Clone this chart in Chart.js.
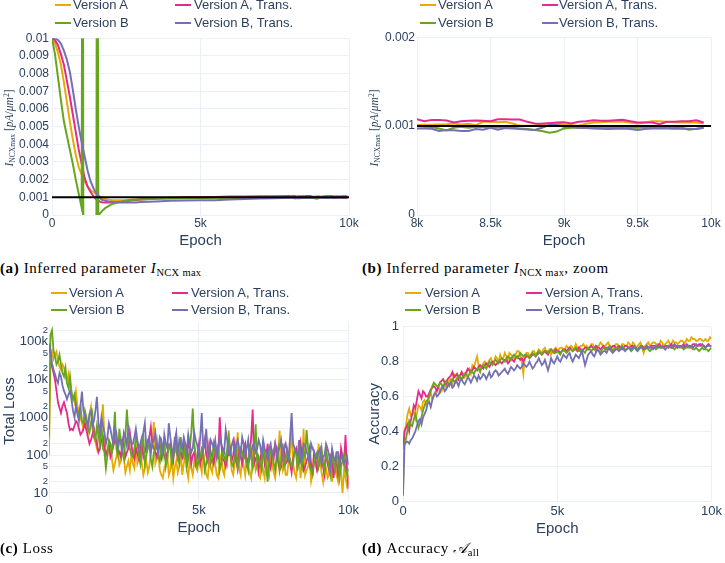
<!DOCTYPE html>
<html><head><meta charset="utf-8">
<script src="https://cdn.jsdelivr.net/npm/chart.js@4.4.1/dist/chart.umd.min.js"></script>
<style>
body{margin:0;width:725px;height:563px;background:#fff;position:relative;overflow:hidden;font-family:'Liberation Sans',Arial,sans-serif;}
canvas{position:absolute;}
.lt{position:absolute;font-size:13px;color:#2a3f5f;white-space:nowrap;line-height:16px;height:16px;}
.sw{position:absolute;height:2px;width:16px;}
.cap{position:absolute;font-family:'Liberation Serif','DejaVu Serif',serif;font-size:15px;letter-spacing:0.6px;color:#000;white-space:nowrap;line-height:18px;}
.cap sub{font-size:10.5px;vertical-align:-3px;letter-spacing:0.3px;}
.yt{position:absolute;width:120px;height:14px;line-height:14px;text-align:center;transform:rotate(-90deg);font-family:'Liberation Serif',serif;font-size:11.5px;color:#2a3f5f;white-space:nowrap;}
.yt sub{font-size:7.5px;vertical-align:-2px;}
.yt sup{font-size:7.5px;vertical-align:4px;}
</style></head><body>
<canvas id="ca" width="362" height="222" style="left:0;top:28px"></canvas>
<canvas id="cb" width="363" height="222" style="left:362px;top:28px"></canvas>
<canvas id="cc" width="362" height="225" style="left:0;top:315px"></canvas>
<canvas id="cd" width="363" height="226" style="left:362px;top:315px"></canvas>
<div class="yt" style="left:-53px;top:121px"><i>I</i><sub>NCXmax</sub> [<i>pA</i>/<i>μm</i><sup>2</sup>]</div>
<div class="yt" style="left:312px;top:121px"><i>I</i><sub>NCXmax</sub> [<i>pA</i>/<i>μm</i><sup>2</sup>]</div>
<div class="cap" style="left:0;top:259px"><b>(a)</b>&nbsp;Inferred parameter <i>I</i><sub>NCX max</sub></div>
<div class="cap" style="left:362px;top:259px"><b>(b)</b>&nbsp;Inferred parameter <i>I</i><sub>NCX max</sub>, zoom</div>
<div class="cap" style="left:0;top:539px"><b>(c)</b>&nbsp;Loss</div>
<div class="cap" style="left:362px;top:539px"><b>(d)</b>&nbsp;Accuracy <i>𝒜</i><sub>all</sub></div>
<script>
const seriesNames = ['Version A', 'Version A, Trans.', 'Version B', 'Version B, Trans.'];
const seriesColors = ['#e6ab02', '#e7298a', '#66a61e', '#7570b3'];
const trueValue = 0.001;

// Inferred parameter I_NCXmax
const paramEpochs = [0,100,200,300,400,500,600,700,800,900,1000,1100,1200,1300,1400,1500,1600,1700,1800,1900,2000,2100,2200,2300,2400,2500,2600,2700,2800,2900,3000,
 3500,4000,4500,5000,5500,6000,6500,7000,7500,
 8000,8050,8100,8150,8200,8250,8300,8350,8400,8450,8500,8550,8600,8650,8700,8750,8800,8850,8900,8950,
 9000,9050,9100,9150,9200,9250,9300,9350,9400,9450,9500,9550,9600,9650,9700,9750,9800,9850,9900,9950];
const greenParamEpochs = [0,100,200,300,400,500,600,700,800,900,1000,1030,1070,1480,1520,1560,1600,1700,1800,1900,2000,2200,2400,2600,2800,3000,
 3500,4000,4500,5000,5500,6000,6500,7000,7500,
 8000,8050,8100,8150,8200,8250,8300,8350,8400,8450,8500,8550,8600,8650,8700,8750,8800,8850,8900,8950,
 9000,9050,9100,9150,9200,9250,9300,9350,9400,9450,9500,9550,9600,9650,9700,9750,9800,9850,9900,9950];
const paramA = [0.0100,0.0097,0.0092,0.0085,0.0075,0.0064,0.0053,0.0043,0.0034,0.0027,0.0023,0.0019,0.0016,0.0014,0.0013,0.00118,0.00105,0.00095,0.0009,0.00087,0.00085,0.00084,0.00083,0.00083,0.00084,0.00085,0.00086,0.00087,0.00088,0.00089,0.0009,
 0.00095,0.00098,0.001,0.001,0.001,0.00101,0.00102,0.00102,0.00102,
 0.001011,0.001015,0.001015,0.001018,0.001022,0.001029,0.001018,0.001026,0.001011,0.001048,0.001048,0.001044,0.001048,0.001029,0.001004,0.001004,0.001007,0.001026,0.001029,0.001026,
 0.001018,0.001011,0.001004,0.001026,0.001040,0.001044,0.001048,0.001048,0.001048,0.001040,0.001029,0.001040,0.001055,0.001055,0.001048,0.001044,0.001040,0.001040,0.001040,0.001033];
const paramATrans = [0.0100,0.0099,0.0096,0.0091,0.0085,0.0076,0.0067,0.0057,0.0047,0.0037,0.0029,0.0021,0.0016,0.0013,0.00105,0.00088,0.00077,0.00071,0.0007,0.0007,0.0007,0.0007,0.00072,0.00074,0.00076,0.00078,0.0008,0.00082,0.00084,0.00086,0.00088,
 0.00093,0.00096,0.00099,0.001,0.00102,0.00104,0.00104,0.00106,0.00106,
 0.001077,0.001055,0.001070,0.001070,0.001062,0.001040,0.001055,0.001059,0.001062,0.001059,0.001055,0.001077,0.001077,0.001074,0.001074,0.001048,0.001029,0.001026,0.001033,0.001040,
 0.001044,0.001029,0.001048,0.001055,0.001066,0.001059,0.001059,0.001066,0.001070,0.001055,0.001040,0.001040,0.001040,0.001022,0.001048,0.001048,0.001055,0.001055,0.001066,0.001040];
const paramB = [0.0100,0.0091,0.0078,0.0065,0.0053,0.0045,0.0037,0.0029,0.0020,0.0012,0.0004,0.03,-0.02,-0.02,0.03,0.0,0.00005,0.00025,0.0004,0.0005,0.0006,0.0007,0.00078,0.00083,0.00086,0.00088,
 0.00092,0.00094,0.00095,0.00096,0.00097,0.00098,0.00098,0.00098,0.00099,
 0.001000,0.000993,0.000989,0.000974,0.000952,0.000982,0.000993,0.000982,0.000993,0.000989,0.000982,0.000985,0.000989,0.000982,0.000974,0.000967,0.000956,0.000945,0.000926,0.000938,
 0.000974,0.000982,0.000982,0.000985,0.000982,0.000985,0.000989,0.000985,0.000985,0.000982,0.000982,0.000985,0.000989,0.000989,0.000989,0.000985,0.000982,0.000960,0.000971,0.000982];
const paramBTrans = [0.0100,0.0100,0.0099,0.0097,0.0093,0.0088,0.0081,0.0071,0.0060,0.0050,0.0041,0.0033,0.0025,0.0019,0.0015,0.0012,0.00098,0.00085,0.0008,0.00077,0.00075,0.00073,0.00072,0.00071,0.0007,0.0007,0.0007,0.0007,0.00071,0.00072,0.00073,
 0.00077,0.0008,0.00082,0.00083,0.00084,0.00087,0.0009,0.00093,0.00095,
 0.000974,0.000974,0.000971,0.000945,0.000956,0.000952,0.000945,0.000945,0.000967,0.000960,0.000982,0.000960,0.000978,0.000974,0.000967,0.000963,0.000956,0.000982,0.001011,0.001011,
 0.000993,0.000989,0.000982,0.000978,0.000974,0.000971,0.000967,0.000971,0.000974,0.000967,0.000956,0.000967,0.000974,0.000974,0.000974,0.000971,0.000974,0.000971,0.000967,0.000982];

// Loss and accuracy: values at whole hundreds, and at the fifties in between
const trainEpochs = [0,100,200,300,400,500,600,700,800,900,1000,1100,1200,1300,1400,1500,1600,1700,1800,1900,2000,2100,2200,2300,2400,2500,2600,2700,2800,2900,3000,3100,3200,3300,3400,3500,3600,3700,3800,3900,4000,4100,4200,4300,4400,4500,4600,4700,4800,4900,5000,5100,5200,5300,5400,5500,5600,5700,5800,5900,6000,6100,6200,6300,6400,6500,6600,6700,6800,6900,7000,7100,7200,7300,7400,7500,7600,7700,7800,7900,8000,8100,8200,8300,8400,8500,8600,8700,8800,8900,9000,9100,9200,9300,9400,9500,9600,9700,9800,9900,10000];
const midEpochs = [50,150,250,350,450,550,650,750,850,950,1050,1150,1250,1350,1450,1550,1650,1750,1850,1950,2050,2150,2250,2350,2450,2550,2650,2750,2850,2950,3050,3150,3250,3350,3450,3550,3650,3750,3850,3950,4050,4150,4250,4350,4450,4550,4650,4750,4850,4950,5050,5150,5250,5350,5450,5550,5650,5750,5850,5950,6050,6150,6250,6350,6450,6550,6650,6750,6850,6950,7050,7150,7250,7350,7450,7550,7650,7750,7850,7950,8050,8150,8250,8350,8450,8550,8650,8750,8850,8950,9050,9150,9250,9350,9450,9550,9650,9750,9850,9950];

const lossA = [100,55000,45000,30000,18000,21000,9000,6000,3500,4800,1500,
 700,1200,400,1900,300,150,250,2200,120,180,
 80,60,150,70,90,50,40,60,200,80,
 60,45,35,120,750,80,40,25,60,30,
 90,50,35,120,60,40,80,30,50,100,
 35,60,25,45,150,30,70,40,90,450,
 40,60,400,30,55,80,35,120,40,30,
 65,25,45,150,35,60,450,40,30,70,
 450,35,60,25,500,40,80,30,55,200,
 35,60,25,90,40,30,70,10,25,30];
const lossAMid = [40000,35000,55000,22000,25000,12000,14000,4000,2500,2000,
 1000,500,800,1200,500,220,400,700,300,100,
 120,40,90,55,130,35,70,100,45,60,
 120,30,70,50,200,60,110,30,45,100,
 40,25,70,50,30,90,25,45,70,40,
 60,110,30,70,35,60,25,100,30,60,
 120,30,80,45,90,30,50,25,70,60,
 25,40,90,30,60,25,100,60,80,30,
 120,60,25,90,60,30,50,20,120,40,
 70,20,45,30,20,60,20,35,40,15];
const lossATrans = [80000,22000,10000,2500,1300,2500,1300,460,460,800,500,
 400,700,300,250,500,200,150,300,100,200,
 120,250,150,90,180,120,400,100,150,80,
 200,120,250,560,150,90,200,110,70,150,
 100,300,80,120,200,70,150,100,60,180,
 90,250,70,120,60,150,1000,80,50,120,
 70,200,45,90,150,60,100,1600,80,40,
 120,60,200,45,80,150,40,90,60,100,
 35,120,50,200,40,70,150,30,80,50,
 120,30,60,100,25,70,40,90,340,13];
const lossATransMid = [40000,15000,5000,1800,2000,1800,700,500,600,700,
 350,500,450,200,350,300,120,250,150,130,
 90,180,200,120,250,90,150,200,80,110,
 150,90,180,300,200,120,150,80,100,120,
 200,70,150,100,90,130,250,60,120,90,
 60,150,100,200,90,120,80,200,70,90,
 150,100,70,120,60,200,80,300,60,100,
 80,150,90,60,120,200,70,50,150,70,
 60,80,150,70,100,50,90,60,120,40,
 80,50,150,40,90,60,30,150,60,40];
const lossB = [300,200000,40000,30000,25000,12000,8000,12000,3000,2000,1200,
 800,1500,500,700,300,600,200,150,45,250,
 120,1400,100,200,80,1600,150,90,300,100,
 200,60,150,80,120,250,70,100,50,180,
 60,120,80,300,90,50,150,1700,100,70,
 150,40,90,60,200,80,40,120,70,300,
 60,100,45,150,80,60,200,50,660,90,
 40,100,20,150,60,90,40,200,70,100,
 50,150,40,80,120,460,60,30,100,50,
 150,40,80,30,60,100,25,70,40,45];
const lossBMid = [150000,60000,25000,45000,15000,20000,6000,5000,4000,1500,
 2000,700,1000,400,1200,250,350,800,120,100,
 200,300,150,500,120,300,400,100,150,200,
 60,300,100,200,50,150,90,200,300,80,
 150,90,200,60,120,200,80,400,200,50,
 90,120,60,150,80,120,200,60,90,150,
 120,50,200,80,120,100,40,100,150,60,
 60,200,50,80,120,40,150,70,50,150,
 80,60,120,200,50,90,150,40,60,120,
 80,60,120,50,150,40,80,50,100,30];
const lossBTrans = [90000,27000,14000,8000,12000,5000,3000,5000,1500,2000,800,
 4800,1000,600,1500,800,3500,400,600,200,700,
 300,500,150,250,400,180,300,200,500,150,
 300,700,200,120,250,150,300,100,200,700,
 150,250,100,180,300,120,200,150,250,100,
 1300,200,120,250,150,100,300,150,460,100,
 180,120,250,100,200,150,80,180,120,250,
 100,150,80,200,120,90,160,100,200,80,
 1300,150,100,70,200,120,60,150,90,120,
 60,100,150,50,90,120,60,100,70,55];
const lossBTransMid = [60000,18000,10000,15000,7000,4000,4000,3000,1000,1200,
 2000,1500,800,1200,600,1500,700,1000,400,300,
 500,200,400,250,150,300,500,200,300,250,
 200,400,150,300,200,400,120,250,350,150,
 300,100,400,250,150,200,350,120,400,180,
 300,150,500,100,200,250,150,200,120,250,
 100,250,180,150,300,100,250,120,200,150,
 180,250,120,150,100,200,120,250,150,120,
 300,200,120,250,90,180,100,200,120,80,
 150,90,200,100,150,70,120,80,60,90];

const accA = [0.05,0.44,0.53,0.50,0.47,0.55,0.52,0.58,0.56,0.62,0.60,
 0.64,0.62,0.66,0.65,0.69,0.67,0.72,0.70,0.74,0.71,
 0.75,0.73,0.77,0.83,0.76,0.79,0.77,0.81,0.79,0.83,
 0.80,0.82,0.85,0.81,0.84,0.82,0.86,0.84,0.73,0.85,
 0.83,0.86,0.84,0.87,0.85,0.88,0.86,0.84,0.87,0.86,
 0.88,0.86,0.89,0.87,0.88,0.90,0.87,0.89,0.88,0.87,
 0.90,0.88,0.89,0.91,0.88,0.90,0.89,0.87,0.90,0.88,
 0.90,0.89,0.91,0.88,0.90,0.89,0.91,0.85,0.90,0.89,
 0.91,0.90,0.89,0.91,0.90,0.92,0.90,0.91,0.90,0.92,
 0.91,0.93,0.92,0.93,0.92,0.93,0.92,0.93,0.92,0.93];
const accAMid = [0.40,0.50,0.49,0.52,0.50,0.54,0.57,0.55,0.60,0.58,
 0.63,0.66,0.63,0.68,0.66,0.70,0.73,0.69,0.72,0.73,
 0.73,0.76,0.78,0.80,0.78,0.77,0.80,0.79,0.82,0.80,
 0.82,0.84,0.82,0.83,0.85,0.83,0.84,0.86,0.80,0.83,
 0.85,0.84,0.86,0.85,0.86,0.87,0.85,0.87,0.86,0.88,
 0.87,0.88,0.87,0.88,0.89,0.87,0.88,0.89,0.90,0.89,
 0.88,0.90,0.87,0.89,0.90,0.89,0.91,0.88,0.89,0.90,
 0.88,0.90,0.89,0.90,0.91,0.88,0.90,0.88,0.89,0.91,
 0.90,0.91,0.90,0.92,0.89,0.91,0.90,0.92,0.91,0.91,
 0.92,0.91,0.92,0.94,0.93,0.92,0.93,0.92,0.92,0.94];
const accATrans = [0.30,0.42,0.40,0.50,0.53,0.63,0.59,0.62,0.60,0.64,0.66,
 0.63,0.68,0.70,0.67,0.71,0.74,0.72,0.70,0.74,0.73,
 0.76,0.74,0.77,0.75,0.78,0.76,0.79,0.77,0.80,0.78,
 0.80,0.79,0.81,0.79,0.82,0.80,0.83,0.81,0.80,0.83,
 0.82,0.84,0.83,0.85,0.84,0.86,0.84,0.87,0.85,0.86,
 0.85,0.87,0.86,0.88,0.86,0.87,0.88,0.86,0.88,0.87,
 0.89,0.87,0.88,0.87,0.89,0.88,0.87,0.89,0.88,0.89,
 0.87,0.89,0.88,0.89,0.88,0.87,0.89,0.88,0.89,0.88,
 0.89,0.88,0.90,0.88,0.89,0.88,0.90,0.89,0.88,0.89,
 0.90,0.89,0.88,0.90,0.89,0.90,0.89,0.88,0.90,0.89];
const accATransMid = [0.40,0.44,0.46,0.55,0.58,0.61,0.63,0.60,0.62,0.65,
 0.65,0.66,0.69,0.68,0.70,0.72,0.71,0.73,0.72,0.71,
 0.74,0.75,0.75,0.76,0.77,0.77,0.78,0.78,0.79,0.79,
 0.79,0.80,0.80,0.81,0.80,0.81,0.82,0.82,0.82,0.82,
 0.83,0.83,0.84,0.84,0.85,0.85,0.85,0.86,0.86,0.87,
 0.86,0.86,0.87,0.87,0.87,0.87,0.86,0.87,0.87,0.88,
 0.88,0.88,0.89,0.88,0.88,0.87,0.88,0.88,0.89,0.88,
 0.88,0.88,0.89,0.88,0.89,0.88,0.88,0.89,0.88,0.88,
 0.89,0.89,0.89,0.89,0.88,0.89,0.89,0.88,0.89,0.89,
 0.89,0.88,0.89,0.89,0.90,0.89,0.90,0.89,0.89,0.89];
const accB = [0.30,0.36,0.46,0.43,0.50,0.42,0.48,0.55,0.58,0.63,0.68,
 0.66,0.68,0.65,0.69,0.66,0.70,0.68,0.72,0.70,0.73,
 0.71,0.75,0.73,0.76,0.74,0.78,0.76,0.80,0.78,0.81,
 0.79,0.82,0.80,0.83,0.81,0.84,0.82,0.85,0.83,0.84,
 0.82,0.85,0.83,0.86,0.84,0.86,0.85,0.87,0.85,0.86,
 0.84,0.87,0.85,0.87,0.86,0.88,0.86,0.87,0.85,0.88,
 0.86,0.88,0.87,0.85,0.88,0.87,0.89,0.86,0.88,0.87,
 0.89,0.87,0.88,0.86,0.88,0.87,0.89,0.87,0.88,0.86,
 0.88,0.87,0.89,0.88,0.87,0.89,0.88,0.87,0.89,0.88,
 0.87,0.88,0.89,0.87,0.88,0.86,0.88,0.87,0.86,0.88];
const accBMid = [0.33,0.41,0.44,0.47,0.46,0.45,0.52,0.57,0.60,0.66,
 0.67,0.66,0.67,0.67,0.68,0.68,0.69,0.70,0.71,0.72,
 0.73,0.73,0.74,0.75,0.76,0.77,0.77,0.78,0.79,0.80,
 0.80,0.81,0.81,0.82,0.82,0.83,0.83,0.83,0.84,0.84,
 0.83,0.84,0.84,0.85,0.85,0.85,0.86,0.86,0.86,0.85,
 0.85,0.86,0.86,0.86,0.87,0.87,0.87,0.86,0.86,0.87,
 0.87,0.87,0.86,0.86,0.87,0.88,0.88,0.87,0.87,0.88,
 0.88,0.88,0.87,0.87,0.87,0.88,0.88,0.88,0.87,0.87,
 0.87,0.88,0.88,0.88,0.88,0.88,0.88,0.88,0.88,0.88,
 0.88,0.88,0.88,0.88,0.87,0.87,0.87,0.87,0.87,0.87];
const accBTrans = [0.03,0.34,0.33,0.36,0.40,0.46,0.44,0.50,0.56,0.54,0.61,
 0.60,0.63,0.66,0.64,0.67,0.65,0.69,0.66,0.70,0.67,
 0.71,0.68,0.72,0.69,0.70,0.73,0.70,0.74,0.72,0.75,
 0.72,0.74,0.76,0.73,0.77,0.75,0.78,0.76,0.79,0.77,
 0.80,0.76,0.79,0.82,0.78,0.81,0.75,0.82,0.79,0.83,
 0.80,0.84,0.82,0.85,0.80,0.84,0.82,0.86,0.78,0.84,
 0.86,0.83,0.87,0.84,0.86,0.85,0.88,0.85,0.87,0.86,
 0.88,0.86,0.88,0.87,0.89,0.86,0.88,0.87,0.89,0.88,
 0.87,0.89,0.88,0.89,0.87,0.89,0.88,0.90,0.88,0.89,
 0.88,0.90,0.89,0.88,0.90,0.89,0.90,0.88,0.89,0.89];
const accBTransMid = [0.32,0.34,0.35,0.38,0.43,0.47,0.48,0.52,0.57,0.58,
 0.62,0.61,0.65,0.63,0.66,0.68,0.66,0.68,0.69,0.68,
 0.69,0.70,0.70,0.71,0.72,0.71,0.72,0.72,0.71,0.74,
 0.74,0.73,0.75,0.74,0.75,0.76,0.76,0.77,0.77,0.78,
 0.78,0.78,0.77,0.80,0.80,0.79,0.78,0.78,0.80,0.81,
 0.81,0.82,0.83,0.84,0.82,0.82,0.83,0.84,0.82,0.81,
 0.85,0.84,0.85,0.86,0.85,0.86,0.87,0.86,0.86,0.87,
 0.87,0.87,0.87,0.88,0.88,0.87,0.87,0.88,0.88,0.88,
 0.88,0.88,0.88,0.88,0.88,0.88,0.89,0.89,0.89,0.89,
 0.89,0.89,0.89,0.89,0.89,0.89,0.89,0.89,0.89,0.89];

// Tick values and labels
const epochTicks = [0, 5000, 10000];
const epochTickLabels = ['0', '5k', '10k'];
const zoomEpochTicks = [8000, 8500, 9000, 9500, 10000];
const zoomEpochTickLabels = ['8k', '8.5k', '9k', '9.5k', '10k'];
const paramTicks = [0,0.001,0.002,0.003,0.004,0.005,0.006,0.007,0.008,0.009,0.01];
const paramTickLabels = ['0','0.001','0.002','0.003','0.004','0.005','0.006','0.007','0.008','0.009','0.01'];
const zoomParamTicks = [0, 0.001, 0.002];
const zoomParamTickLabels = ['0', '0.001', '0.002'];
const lossTicks = [10,20,50,100,200,500,1000,2000,5000,10000,20000,50000,100000,200000];
const lossTickLabels = ['10','2','5','100','2','5','1000','2','5','10k','2','5','100k','2'];
const lossMajor = [10,100,1000,10000,100000];
const accTicks = [0,0.2,0.4,0.6,0.8,1];
const accTickLabels = ['0','0.2','0.4','0.6','0.8','1'];

const TXT = '#2a3f5f', GRID = '#ebf0f8';
Chart.defaults.font.family = "'Liberation Sans', Arial, sans-serif";
Chart.defaults.color = TXT;

function pts(xs, ys){ return xs.map((x,i)=>({x:x, y:ys[i]})); }
function merged(xs, ys, mx, my){ return pts(xs, ys).concat(pts(mx, my)).sort((a,b)=>a.x-b.x); }
function lineDs(data, color, order, w){
  return {data:data, borderColor:color, backgroundColor:color, borderWidth:w||2, pointRadius:0, tension:0, fill:false, order:order};
}
function setTicks(vals){ return s => { s.ticks = vals.map(v=>({value:v})); }; }
function labelFrom(vals, labels){ return v => { const i = vals.indexOf(v); return i>=0 ? labels[i] : ''; }; }

function xScale(min, max, vals, labels, h, tickPad, tickSize, titlePad){
  return {type:'linear', min:min, max:max, afterBuildTicks:setTicks(vals), afterFit:s=>{s.height=h;},
    grid:{color:GRID, drawTicks:false, lineWidth:1}, border:{display:false},
    ticks:{padding:tickPad, maxRotation:0, autoSkip:false, font:{size:tickSize}, color:TXT, callback:labelFrom(vals, labels)},
    title:{display:true, text:'Epoch', font:{size:15}, color:TXT, padding:{top:0,bottom:titlePad}}};
}
function yScale(type, min, max, vals, labels, w, tickPad, tickFont, title, titlePad){
  return {type:type, min:min, max:max, afterBuildTicks:setTicks(vals), afterFit:s=>{s.width=w;},
    grid:{color:GRID, drawTicks:false, lineWidth:1}, border:{display:false},
    ticks:{padding:tickPad, autoSkip:false, font:tickFont, color:TXT, callback:labelFrom(vals, labels)},
    title:{display:!!title, text:title||'', font:{size:15}, color:TXT, padding:{top:titlePad,bottom:0}}};
}
function baseOpts(pad, scales){
  return {responsive:false, animation:false, devicePixelRatio:1, layout:{padding:pad},
    plugins:{legend:{display:false}, tooltip:{enabled:false}}, scales:scales};
}

function paramDatasets(){
  return [
    lineDs([{x:0,y:trueValue},{x:10000,y:trueValue}], '#000000', 0),
    lineDs(pts(paramEpochs, paramA), seriesColors[0], 4),
    lineDs(pts(paramEpochs, paramATrans), seriesColors[1], 3),
    lineDs(pts(greenParamEpochs, paramB), seriesColors[2], 2),
    lineDs(pts(paramEpochs, paramBTrans), seriesColors[3], 1)
  ];
}

new Chart(document.getElementById('ca'), {type:'line', data:{datasets:paramDatasets()},
  options: baseOpts({left:0,right:13,top:7,bottom:0}, {
    x: xScale(0, 10000, epochTicks, epochTickLabels, 35, 1, 12, 0),
    y: yScale('linear', 0, 0.01, paramTicks, paramTickLabels, 52, 3, {size:12}, '', 0)
  })});

new Chart(document.getElementById('cb'), {type:'line', data:{datasets:paramDatasets()},
  options: baseOpts({left:0,right:14,top:7,bottom:0}, {
    x: xScale(8000, 10000, zoomEpochTicks, zoomEpochTickLabels, 35, 1, 12, 0),
    y: yScale('linear', 0, 0.002, zoomParamTicks, zoomParamTickLabels, 55, 2, {size:12}, '', 0)
  })});

new Chart(document.getElementById('cc'), {type:'line', data:{datasets:[
    lineDs(merged(trainEpochs, lossA, midEpochs, lossAMid), seriesColors[0], 4, 1.8),
    lineDs(merged(trainEpochs, lossATrans, midEpochs, lossATransMid), seriesColors[1], 3, 1.8),
    lineDs(merged(trainEpochs, lossB, midEpochs, lossBMid), seriesColors[2], 2, 1.8),
    lineDs(merged(trainEpochs, lossBTrans, midEpochs, lossBTransMid), seriesColors[3], 1, 1.8)]},
  options: baseOpts({left:0,right:13,top:7,bottom:0}, {
    x: xScale(0, 10000, epochTicks, epochTickLabels, 40, 3, 13, 3),
    y: yScale('logarithmic', 6.53, 332000, lossTicks, lossTickLabels, 49, 1,
      ctx => ({size: (ctx.tick && lossMajor.indexOf(ctx.tick.value) >= 0) ? 13 : 9.5}), 'Total Loss', 1)
  })});

new Chart(document.getElementById('cd'), {type:'line', data:{datasets:[
    lineDs(merged(trainEpochs, accA, midEpochs, accAMid), seriesColors[0], 4, 1.8),
    lineDs(merged(trainEpochs, accATrans, midEpochs, accATransMid), seriesColors[1], 3, 1.8),
    lineDs(merged(trainEpochs, accB, midEpochs, accBMid), seriesColors[2], 2, 1.8),
    lineDs(merged(trainEpochs, accBTrans, midEpochs, accBTransMid), seriesColors[3], 1, 1.8)]},
  options: baseOpts({left:0,right:11,top:7,bottom:0}, {
    x: xScale(0, 10000, epochTicks, epochTickLabels, 40, 3, 13, 3),
    y: yScale('linear', 0, 1, accTicks, accTickLabels, 41, 4, {size:13}, 'Accuracy', 4)
  })});

// HTML legends (2 x 2)
const legendLayouts = [
  {sw:[55,175], tx:[73,194], rows:[5,23]},
  {sw:[420,542], tx:[438,559], rows:[5,23]},
  {sw:[51,172], tx:[69,191], rows:[293,310]},
  {sw:[405,526], tx:[425,545], rows:[293,310]}
];
legendLayouts.forEach(L => {
  seriesNames.forEach((name, i) => {
    const col = i % 2, row = Math.floor(i / 2);
    const sw = document.createElement('div');
    sw.className = 'sw'; sw.style.left = L.sw[col] + 'px'; sw.style.top = (L.rows[row] - 1) + 'px';
    sw.style.background = seriesColors[i];
    document.body.appendChild(sw);
    const t = document.createElement('div');
    t.className = 'lt'; t.style.left = L.tx[col] + 'px'; t.style.top = (L.rows[row] - 8) + 'px';
    t.textContent = name;
    document.body.appendChild(t);
  });
});
</script>
</body></html>
